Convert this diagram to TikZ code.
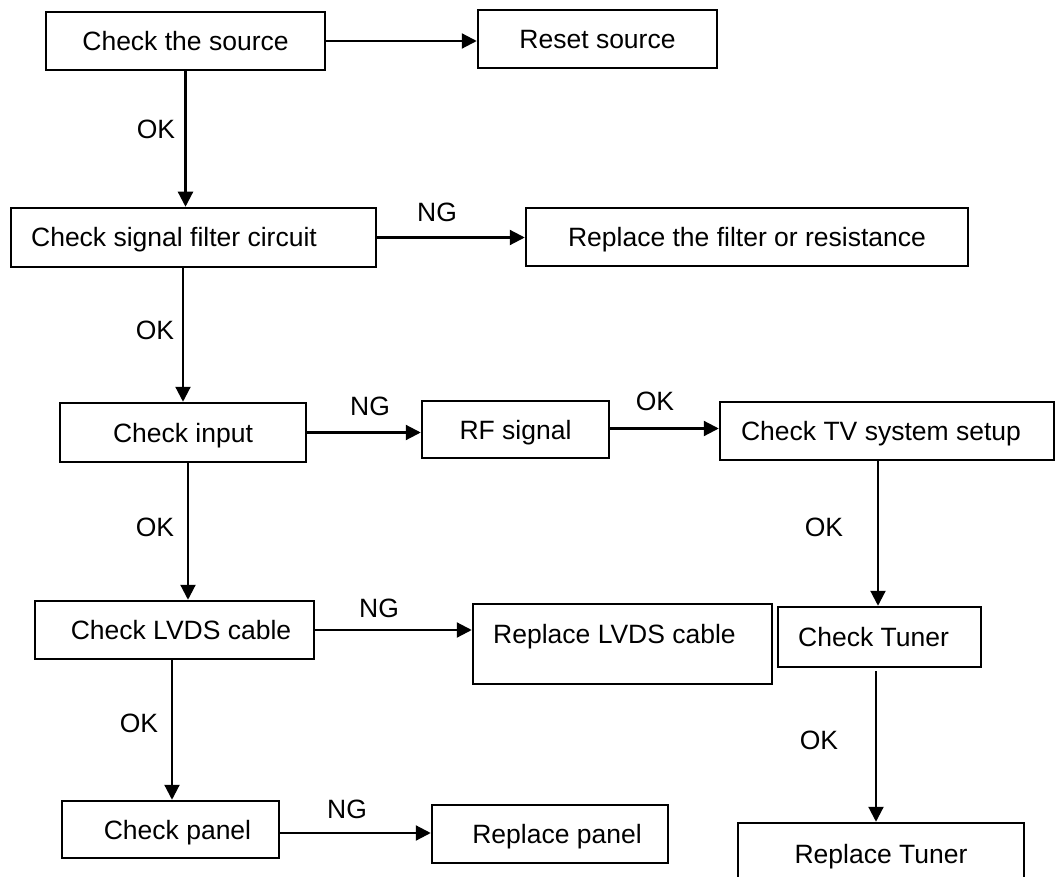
\documentclass[tikz,border=0pt]{standalone}
\usepackage{fontspec}
\setmainfont{Liberation Sans}
\usetikzlibrary{arrows.meta}
\begin{document}
\begin{tikzpicture}[x=1pt,y=-1pt,
  box/.style={draw, line width=2.5pt, inner sep=0pt, font=\fontsize{26.5}{30}\selectfont, text height=19pt, text depth=0pt},
  lbl/.style={inner sep=0pt, font=\fontsize{26.5}{30}\selectfont, text height=19pt, text depth=0pt},
  conn/.style={line width=2.2pt, -{Triangle[length=15pt,width=15pt]}}]
\useasboundingbox (0,0) rectangle (1055,877);
\path[clip] (0,0) rectangle (1055,877);
% boxes
\node[box, minimum width=279pt, minimum height=58pt] (src) at (185.5,41) {Check the source};
\node[box, minimum width=239pt, minimum height=58pt] (reset) at (597.5,39) {Reset source};
\node[box, minimum width=365pt, minimum height=59pt] (filt) at (193.5,237.5) {Check signal filter circuit\hspace*{39pt}};
\node[box, minimum width=442pt, minimum height=58pt] (repl) at (747,237) {Replace the filter or resistance};
\node[box, minimum width=246pt, minimum height=59pt] (inp) at (183,432.5) {Check input};
\node[box, minimum width=187pt, minimum height=57pt] (rf) at (515.5,429.5) {RF signal};
\node[box, minimum width=334pt, minimum height=58pt] (tv) at (887,431) {Check TV system setup\hspace*{12pt}};
\node[box, minimum width=279pt, minimum height=58pt] (lvds) at (174.5,630) {\hspace*{13pt}Check LVDS cable};
\node[box, minimum width=299pt, minimum height=80pt] (rlvds) at (622.5,644) {\raisebox{10pt}{Replace LVDS cable}\hspace*{16pt}};
\node[box, minimum width=203pt, minimum height=60pt] (tuner) at (879.5,637) {Check Tuner\hspace*{12pt}};
\node[box, minimum width=217pt, minimum height=57pt] (panel) at (170.5,829.5) {\hspace*{14pt}Check panel};
\node[box, minimum width=236pt, minimum height=58pt] (rpanel) at (550,834) {\hspace*{14pt}Replace panel};
\node[box, minimum width=286pt, minimum height=62pt] (rtuner) at (881,854) {Replace Tuner};
% connectors
\draw[conn] (src.east) -- (src.east -| reset.west);
\draw[conn] (src.south) -- (src.south |- filt.north);
\draw[conn] (filt.east) -- (filt.east -| repl.west);
\draw[conn] (filt.south -| inp.north) -- (inp.north);
\draw[conn] (inp.east) -- (inp.east -| rf.west);
\draw[conn] ([yshift=1pt]rf.east) -- ([yshift=1pt]rf.east -| tv.west);
\draw[conn] ([xshift=5pt]inp.south) -- ([xshift=5pt]inp.south |- lvds.north);
\draw[conn] (lvds.east) -- (lvds.east -| rlvds.west);
\draw[conn] ([xshift=-2.5pt]lvds.south) -- ([xshift=-2.5pt]lvds.south |- panel.north);
\draw[conn] ([yshift=-3.5pt]panel.east) -- ([yshift=-3.5pt]panel.east -| rpanel.west);
\draw[conn] ([xshift=-9pt]tv.south) -- ([xshift=-9pt]tv.south |- tuner.north);
\draw[conn] ([xshift=-3.5pt,yshift=-3pt]tuner.south) -- ([xshift=-3.5pt]tuner.south |- rtuner.north);
% labels
\node[lbl] (ok1) at (156,129) {OK};
\node[lbl] (ng1) at (437,212) {NG};
\node[lbl] (ok2) at (155,330) {OK};
\node[lbl] (ng2) at (370,406) {NG};
\node[lbl] (ok3) at (655,401) {OK};
\node[lbl] (ok4) at (155,527) {OK};
\node[lbl] (ng3) at (379,608) {NG};
\node[lbl] (ok5) at (824,527) {OK};
\node[lbl] (ok6) at (139,723) {OK};
\node[lbl] (ng4) at (347,809) {NG};
\node[lbl] (ok7) at (819,740) {OK};
\end{tikzpicture}
\end{document}
